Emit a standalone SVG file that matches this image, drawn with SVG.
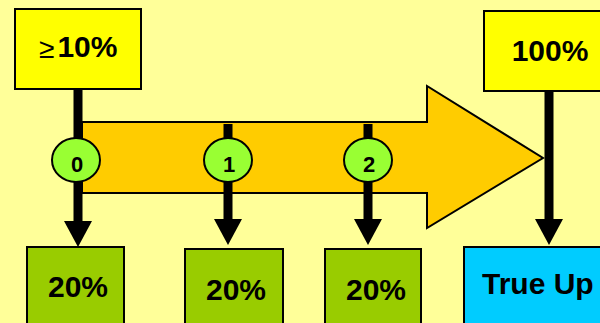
<svg xmlns="http://www.w3.org/2000/svg" width="600" height="323" viewBox="0 0 600 323">
  <defs>
    <style>
      .box { stroke: #000; stroke-width: 2; }
      .pct { fill: #FFFF00; }
      .share { fill: #99CC00; }
      .trueup { fill: #00CCFF; }
      .lbl { font-family: "Liberation Sans", Arial, sans-serif; font-weight: bold; font-size: 30px; fill: #000; text-anchor: middle; }
      .step { fill: #99FF33; stroke: #000; stroke-width: 2; }
      .num { font-family: "Liberation Sans", Arial, sans-serif; font-weight: bold; font-size: 22px; fill: #000; text-anchor: middle; }
      .stem { stroke: #000; stroke-width: 9; fill: none; }
      .head { fill: #000; }
    </style>
  </defs>

  <rect width="600" height="323" fill="#FFFF99"/>

  <!-- timeline arrow -->
  <g id="timeline">
    <polygon points="82,122 427,122 427,86 543,158 427,228 427,193 82,193" fill="#FFCC00" stroke="#000" stroke-width="2"/>
  </g>

  <!-- connectors -->
  <g id="connectors">
    <line class="stem" x1="78" y1="89" x2="78" y2="224"/>
    <polygon class="head" points="64,221 92,221 78,247"/>
    <line class="stem" x1="228" y1="124" x2="228" y2="222"/>
    <polygon class="head" points="214,219 242,219 228,245"/>
    <line class="stem" x1="368" y1="124" x2="368" y2="222"/>
    <polygon class="head" points="354,219 382,219 368,245"/>
    <line class="stem" x1="549" y1="91" x2="549" y2="222"/>
    <polygon class="head" points="535,219 563,219 549,245"/>
  </g>

  <g id="start">
    <rect class="box pct" x="15" y="9" width="126" height="80"/>
    <text class="lbl" x="39" y="58" style="text-anchor:start"><tspan font-size="28" font-weight="normal">≥</tspan><tspan dx="3" y="57">10%</tspan></text>
  </g>

  <g id="end">
    <rect class="box pct" x="484" y="11" width="130" height="80"/>
    <text class="lbl" x="550" y="61">100%</text>
  </g>

  <g id="step0">
    <ellipse class="step" cx="76" cy="160" rx="24" ry="22"/>
    <text class="num" x="77" y="172">0</text>
  </g>
  <g id="step1">
    <ellipse class="step" cx="228" cy="160" rx="24" ry="22"/>
    <text class="num" x="229" y="172">1</text>
  </g>
  <g id="step2">
    <ellipse class="step" cx="368" cy="160" rx="24" ry="22"/>
    <text class="num" x="369" y="172">2</text>
  </g>

  <g id="pay0">
    <rect class="box share" x="27" y="247" width="97" height="90"/>
    <text class="lbl" x="78" y="297">20%</text>
  </g>
  <g id="pay1">
    <rect class="box share" x="185" y="249" width="98" height="90"/>
    <text class="lbl" x="236" y="300">20%</text>
  </g>
  <g id="pay2">
    <rect class="box share" x="325" y="249" width="96" height="90"/>
    <text class="lbl" x="376" y="300">20%</text>
  </g>
  <g id="trueup">
    <rect class="box trueup" x="464" y="247" width="150" height="90"/>
    <text class="lbl" x="482" y="294" style="text-anchor:start">True Up</text>
  </g>
</svg>
